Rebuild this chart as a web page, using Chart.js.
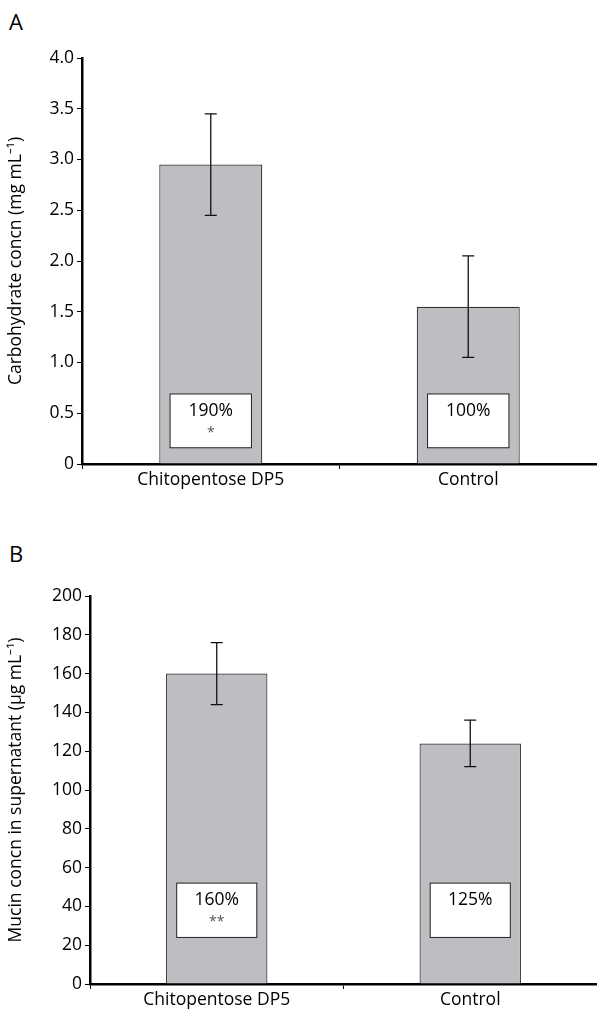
<!DOCTYPE html>
<html>
<head>
<meta charset="utf-8">
<script src="https://cdn.jsdelivr.net/npm/chart.js@4"></script>
<style>
  body { margin: 0; background: #fff; font-family: "Open Sans", sans-serif; }
  .panel { position: absolute; left: 0; width: 597px; }
  .tag { position: absolute; left: 9px; font-size: 22px; color: #000; }
</style>
</head>
<body>
<div class="tag" style="top:6px">A</div>
<div class="panel" style="top:0;height:500px"><canvas id="chartA"></canvas></div>
<div class="tag" style="top:538px">B</div>
<div class="panel" style="top:520px;height:495px"><canvas id="chartB"></canvas></div>
<script>
const categories = ["Chitopentose DP5", "Control"];

const carbValues = [2.95, 1.55];
const carbErrors = [0.5, 0.5];
const carbPercent = ["190%", "100%"];
const carbStars = ["*", ""];

const mucinValues = [160, 124];
const mucinErrors = [16, 12];
const mucinPercent = ["160%", "125%"];
const mucinStars = ["**", ""];

const font = "'Open Sans', sans-serif";
const fs = 17.5;

// error bars + white percentage boxes drawn on top of the bars
const extras = {
  id: "extras",
  afterDatasetsDraw(chart, args, opts) {
    const ctx = chart.ctx;
    const y = chart.scales.y;
    const meta = chart.getDatasetMeta(0);
    ctx.save();
    meta.data.forEach((bar, i) => {
      const v = chart.data.datasets[0].data[i];
      const e = opts.errors[i];
      const top = y.getPixelForValue(v + e);
      const bot = y.getPixelForValue(v - e);
      ctx.strokeStyle = "#111";
      ctx.lineWidth = 1.3;
      ctx.beginPath();
      ctx.moveTo(bar.x, top); ctx.lineTo(bar.x, bot);
      ctx.moveTo(bar.x - 6, top); ctx.lineTo(bar.x + 6, top);
      ctx.moveTo(bar.x - 6, bot); ctx.lineTo(bar.x + 6, bot);
      ctx.stroke();

      const bw = bar.width * 0.79;
      const by1 = y.getPixelForValue(opts.boxTop);
      const by2 = y.getPixelForValue(opts.boxBottom);
      ctx.fillStyle = "#fff";
      ctx.fillRect(bar.x - bw / 2, by1, bw, by2 - by1);
      ctx.strokeStyle = "#222";
      ctx.lineWidth = 1;
      ctx.strokeRect(bar.x - bw / 2, by1, bw, by2 - by1);
      ctx.fillStyle = "#000";
      ctx.textAlign = "center";
      ctx.textBaseline = "middle";
      ctx.font = fs + "px " + font;
      ctx.fillText(opts.percent[i], bar.x, by1 + 17);
      if (opts.stars[i]) {
        ctx.fillStyle = "#555";
        ctx.font = "14px " + font;
        ctx.fillText(opts.stars[i], bar.x, by1 + 39);
      }
    });
    ctx.restore();
  }
};

function makeChart(id, values, errors, percent, stars, opt) {
  return new Chart(document.getElementById(id), {
    type: "bar",
    data: {
      labels: categories,
      datasets: [{
        data: values,
        backgroundColor: "#bdbec2",
        borderColor: "#333",
        borderWidth: 1.2,
        borderSkipped: "bottom",
        barPercentage: 0.4,
        categoryPercentage: 1.0
      }]
    },
    options: {
      responsive: true,
      maintainAspectRatio: false,
      animation: false,
      layout: { padding: { top: opt.padTop, right: 0, left: 0, bottom: 0 } },
      plugins: {
        legend: { display: false },
        tooltip: { enabled: false },
        extras: { errors: errors, percent: percent, stars: stars, boxTop: opt.boxTop, boxBottom: opt.boxBottom }
      },
      scales: {
        x: {
          grid: { display: true, drawOnChartArea: false, offset: true, color: "#000", tickLength: 5, lineWidth: 1 },
          border: { color: "#000", width: 2.5 },
          ticks: { color: "#000", font: { family: font, size: fs }, padding: 1 },
          afterFit: (s) => { s.height = opt.xHeight; }
        },
        y: {
          min: opt.min, max: opt.max,
          grid: { display: true, drawOnChartArea: false, color: "#000", tickLength: 5, lineWidth: 1 },
          border: { color: "#000", width: 2.5 },
          ticks: {
            stepSize: opt.step, color: "#000", padding: 3,
            font: { family: font, size: fs },
            callback: opt.fmt
          },
          title: { display: true, text: opt.title, color: "#000", font: { family: font, size: fs }, padding: { top: 6 } },
          afterFit: (s) => { s.width = opt.yWidth; }
        }
      }
    },
    plugins: [extras]
  });
}

makeChart("chartA", carbValues, carbErrors, carbPercent, carbStars, {
  min: 0, max: 4, step: 0.5, padTop: 58, xHeight: 36, yWidth: 82,
  boxTop: 0.69, boxBottom: 0.16,
  title: "Carbohydrate concn (mg mL\u207B\u00B9)",
  fmt: (v) => v === 0 ? "0" : v.toFixed(1)
});

makeChart("chartB", mucinValues, mucinErrors, mucinPercent, mucinStars, {
  min: 0, max: 200, step: 20, padTop: 76, xHeight: 31, yWidth: 90,
  boxTop: 52, boxBottom: 24,
  title: "Mucin concn in supernatant (\u03BCg mL\u207B\u00B9)",
  fmt: (v) => String(v)
});
</script>
</body>
</html>
